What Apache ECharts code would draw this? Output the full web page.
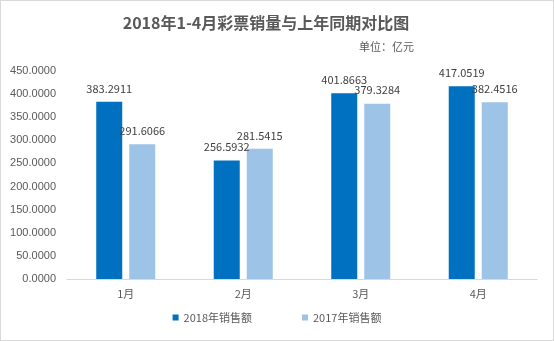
<!DOCTYPE html>
<html><head><meta charset="utf-8">
<script src="https://cdn.jsdelivr.net/npm/echarts@6/dist/echarts.min.js"></script>
<style>html,body{margin:0;padding:0;background:#fff}#c{width:554px;height:341px;box-sizing:border-box;border:1px solid #d9d9d9}</style>
</head><body><div id="c"></div>
<script>
const categories = ['1月','2月','3月','4月'];
const sales2018 = [383.2911, 256.5932, 401.8663, 417.0519];
const sales2017 = [291.6066, 281.5415, 379.3284, 382.4516];
const yTicks = [0,50,100,150,200,250,300,350,400,450];
const ff = '"Noto Sans CJK SC","Noto Sans",sans-serif';
const chart = echarts.init(document.getElementById('c'));
const lbl = {show:true, position:'top', distance:8, color:'#404040', fontSize:11, fontFamily:ff, formatter:p=>p.value.toFixed(4)};
chart.setOption({
  animation:false,
  title:[{text:'2018年1-4月彩票销量与上年同期对比图', left:260, top:9, textAlign:'center', textStyle:{fontSize:16, fontWeight:'bold', color:'#595959', fontFamily:ff}},
         {text:'单位：亿元', right:134, top:35, textStyle:{fontSize:11, fontWeight:'normal', color:'#595959', fontFamily:ff}}],
  legend:{bottom:12, left:'center', itemWidth:6, itemHeight:6, itemGap:50, icon:'rect', textStyle:{fontSize:11, color:'#595959', fontFamily:ff}, data:['2018年销售额','2017年销售额']},
  grid:{left:66, right:16, top:70, bottom:61, containLabel:false},
  xAxis:{type:'category', data:categories, axisLine:{lineStyle:{color:'#d9d9d9'}}, axisTick:{show:false}, axisLabel:{color:'#595959', fontSize:11, fontFamily:ff, margin:9}},
  yAxis:{type:'value', min:yTicks[0], max:yTicks[yTicks.length-1], interval:50, axisLine:{show:false}, axisTick:{show:false}, splitLine:{show:false},
    axisLabel:{color:'#595959', fontSize:11, fontFamily:'"Liberation Sans",Arial,sans-serif', margin:11, formatter:v=>v.toFixed(4)}},
  series:[
    {name:'2018年销售额', type:'bar', data:sales2018, barWidth:26, barGap:'27%', itemStyle:{color:'#0070C0'}, label:lbl},
    {name:'2017年销售额', type:'bar', data:sales2017, barWidth:26, itemStyle:{color:'#9DC3E6'}, label:lbl}
  ]
});
</script></body></html>
